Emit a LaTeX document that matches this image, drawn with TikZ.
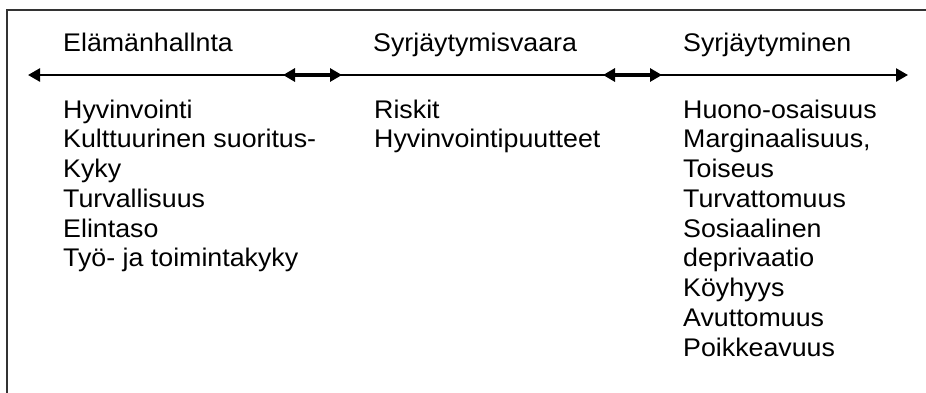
\documentclass[tikz,border=0pt]{standalone}
\usepackage{fontspec}
\setmainfont{Liberation Sans}[FakeStretch=1.05]
\usetikzlibrary{arrows.meta}
\begin{document}
\begin{tikzpicture}[x=1pt,y=-1pt,
  txt/.style={anchor=base west,inner sep=0pt,font=\fontsize{25.5}{30}\selectfont},
  axis/.style={line width=2.5pt,{Triangle[length=12pt,width=13pt]}-{Triangle[length=12pt,width=13pt]}},
  link/.style={line width=3.5pt,{Triangle[length=12pt,width=13pt]}-{Triangle[length=12pt,width=13pt]}},
  frame/.style={line width=1.5pt,draw=black!80}]
\useasboundingbox (0,0) rectangle (926,392);
\fill[white] (0,0) rectangle (926,392);
% frame (only top and left visible)
\coordinate (F1) at (7,400);
\coordinate (F2) at (7,10);
\coordinate (F3) at (930,10);
\draw[frame] (F1) -- (F2) -- (F3);
% headers
\node[txt] (h1) at (63,51) {Elämänhallnta};
\node[txt] (h2) at (373,51) {Syrjäytymisvaara};
\node[txt] (h3) at (683,51) {Syrjäytyminen};
% axis
\coordinate (aL) at (28,75);
\coordinate (aR) at (908,75);
\coordinate (b1) at (283,75);
\coordinate (b2) at (342,75);
\coordinate (c1) at (603,75);
\coordinate (c2) at (662,75);
\draw[axis] (aL) -- (aR);
\draw[link] (b1) -- (b2);
\draw[link] (c1) -- (c2);
% left column
\foreach \t [count=\i] in {Hyvinvointi,Kulttuurinen suoritus-,Kyky,Turvallisuus,Elintaso,Työ- ja toimintakyky}
  \node[txt] (l\i) at (63,{118+(\i-1)*29.75}) {\t};
% middle column
\foreach \t [count=\i] in {Riskit,Hyvinvointipuutteet}
  \node[txt] (m\i) at (374,{118+(\i-1)*29.75}) {\t};
% right column
\foreach \t [count=\i] in {Huono-osaisuus,{Marginaalisuus,},Toiseus,Turvattomuus,Sosiaalinen,deprivaatio,Köyhyys,Avuttomuus,Poikkeavuus}
  \node[txt] (r\i) at (683,{118+(\i-1)*29.75}) {\t};
\end{tikzpicture}
\end{document}
